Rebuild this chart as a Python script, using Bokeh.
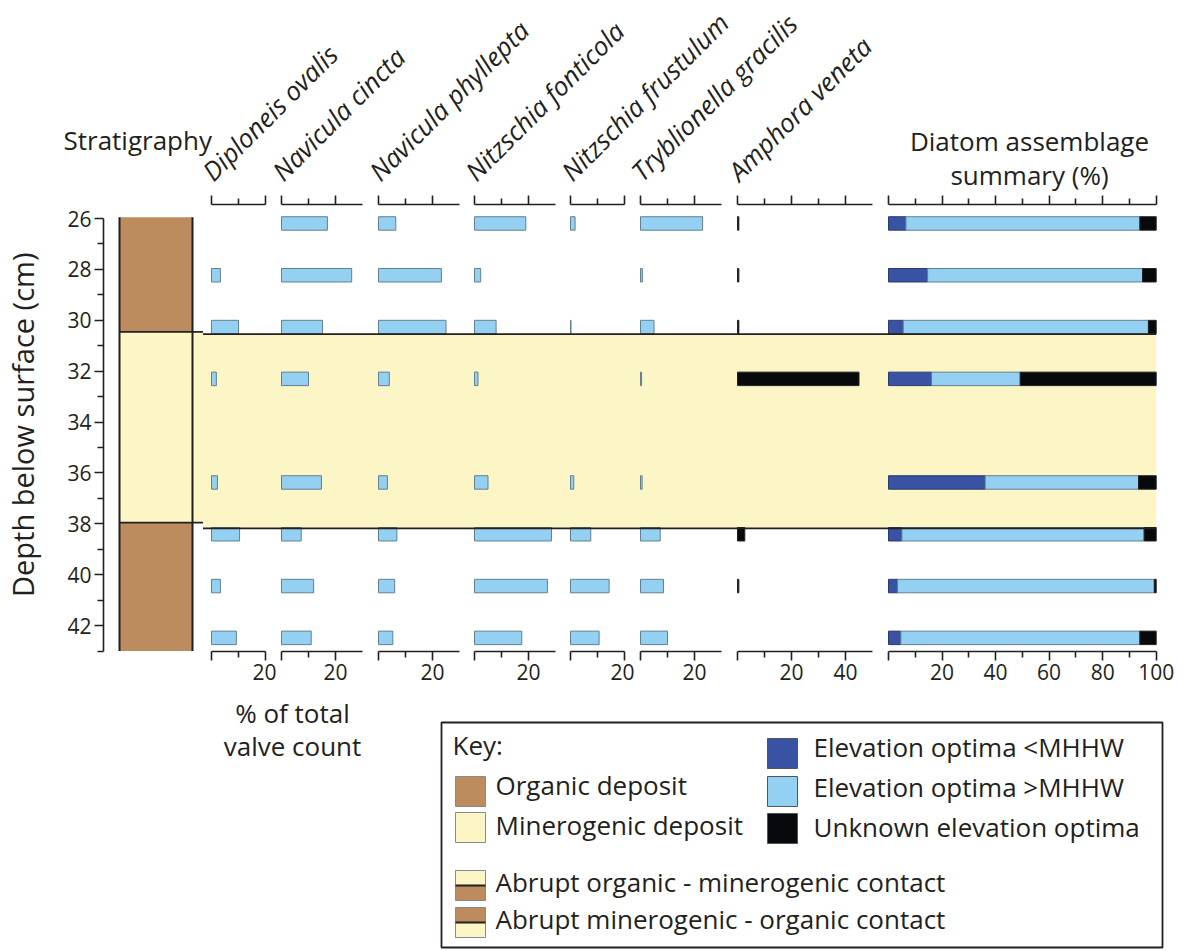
import math
from bokeh.plotting import figure
from bokeh.layouts import row, column
from bokeh.models import Range1d, LinearAxis, FixedTicker, ColumnDataSource, CustomJSTickFormatter
from bokeh.core.properties import value
from bokeh.embed import file_html
from bokeh.resources import INLINE

# ---------------- data ----------------
depths = [26, 28, 30, 32, 36, 38, 40, 42]

species_names = ["Diploneis ovalis", "Navicula cincta", "Navicula phyllepta",
                 "Nitzschia fonticola", "Nitzschia frustulum", "Tryblionella gracilis",
                 "Amphora veneta"]
diploneis_ovalis = [0, 3.3, 10.0, 1.8, 2.2, 10.4, 3.3, 9.2]
navicula_cincta = [17.0, 26.0, 15.2, 10.0, 14.8, 7.3, 11.9, 11.0]
navicula_phyllepta = [6.4, 23.3, 25.0, 4.0, 3.3, 6.8, 6.0, 5.3]
nitzschia_fonticola = [19.0, 2.3, 8.0, 1.3, 5.0, 28.5, 27.0, 17.5]
nitzschia_frustulum = [1.7, 0, 0.2, 0, 1.2, 7.5, 14.3, 10.6]
tryblionella_gracilis = [23.0, 0.7, 5.0, 0.4, 0.6, 7.3, 8.5, 10.0]
amphora_veneta = [0.5, 0.5, 0.5, 45.0, 0, 2.7, 0.5, 0]
species_values = [diploneis_ovalis, navicula_cincta, navicula_phyllepta,
                  nitzschia_fonticola, nitzschia_frustulum, tryblionella_gracilis,
                  amphora_veneta]
species_axis_max = [20, 30, 30, 30, 20, 30, 50]
species_group = ["above", "above", "above", "above", "above", "above", "unknown"]

# diatom assemblage summary (%)
below_mhhw = [6.5, 14.6, 5.5, 16.1, 36.1, 5.0, 3.4, 4.6]
above_mhhw = [87.4, 80.3, 91.6, 33.1, 57.3, 90.5, 95.9, 89.3]
unknown_opt = [6.1, 5.1, 2.9, 50.8, 6.6, 4.5, 0.7, 6.1]

# stratigraphy
strat_units = ["organic", "minerogenic", "organic"]
strat_top = [25.95, 30.45, 37.95]
strat_base = [30.45, 37.95, 43.0]
contacts = [30.45, 37.95]

depth_major_ticks = [26, 28, 30, 32, 34, 36, 38, 40, 42]
depth_minor_ticks = [27, 29, 31, 33, 35, 37, 39, 41, 43]

# ---------------- style / layout ----------------
FONT = "Open Sans"
INK = "#231f20"
C_ORG = "#bc8c5f"
C_MIN = "#fcf6c6"
C_DARK = "#3a52a3"
C_LIGHT = "#93d0f1"
C_BLACK = "#08090c"
EDGE = "#62808f"
group_fill = {"above": C_LIGHT, "unknown": C_BLACK, "below": C_DARK}
unit_fill = {"organic": C_ORG, "minerogenic": C_MIN}

X_LEFT, X_RIGHT = 0, 1190
HEAD_TOP = 0
ROW_TOP = 194
FRAME_TOP = 204
PANEL_BOTTOM = 651
CORE_BOTTOM = 659
ROW_BOTTOM = 694
PAGE_BOTTOM = 949
Y26 = 218.3
PX_CM = 25.9
LABEL_COL_RIGHT = 58
A_FRAME_LEFT = 103
A_RIGHT = 203
STRAT_L, STRAT_R = 119, 192
panel_zero_px = [211, 281, 378, 474, 570, 640, 737]
panel_edges = [203, 276, 372, 468, 564, 634, 731, 880]
PX_PCT = 2.7
SUM_ZERO, SUM_PX_PCT, SUM_L = 888, 2.677, 880
BAR_TOP_OFF, BAR_BOT_OFF = -0.08, 0.44
BLEED = 2.0
BASE_FIX = 11       # renderer draws the alphabetic baseline this far below the anchor
VLABEL_FIX = 40     # extra along-text shift seen for the 90-degree caption


def fix(xs, ys, angle=0.0):
    """Shift anchors so that the drawn baseline lands at the wanted spot."""
    dx, dy = BASE_FIX * math.sin(angle), BASE_FIX * math.cos(angle)
    return [x - dx for x in xs], [y - dy for y in ys]


def depth_at(px):
    return 26 + (px - Y26) / PX_CM


def base_fig(width, height, x_range, y_range, **kw):
    p = figure(width=width, height=height, x_range=x_range, y_range=y_range,
               output_backend="svg", toolbar_location=None,
               x_axis_location=None, y_axis_location=None, min_border=0, **kw)
    p.outline_line_color = None
    p.background_fill_color = "white"
    p.border_fill_color = "white"
    p.xgrid.visible = False
    p.ygrid.visible = False
    return p


def styled_axis(bounds, majors, minors, show_labels, hide_zero=True):
    code = "return tick == 0 ? '' : tick.toFixed(0);" if hide_zero else "return tick.toFixed(0);"
    if not show_labels:
        code = "return '';"
    ax = LinearAxis(bounds=bounds, ticker=FixedTicker(ticks=majors, minor_ticks=minors),
                    formatter=CustomJSTickFormatter(code=code))
    ax.axis_line_color = INK
    ax.axis_line_width = 1.6
    ax.major_tick_line_color = INK
    ax.major_tick_line_width = 1.6
    ax.minor_tick_line_color = INK
    ax.minor_tick_line_width = 1.6
    ax.major_tick_in = 0
    ax.major_tick_out = 9
    ax.minor_tick_in = 0
    ax.minor_tick_out = 6
    ax.major_label_standoff = 3 if show_labels else 0
    ax.major_label_text_font = FONT
    ax.major_label_text_font_size = "21px" if show_labels else "0px"
    ax.major_label_text_color = INK
    return ax


ROW_H = ROW_BOTTOM - ROW_TOP
panel_yr = lambda: Range1d(depth_at(PANEL_BOTTOM), depth_at(FRAME_TOP))
TXT = dict(text_font=value(FONT), text_font_size="26px", text_color=INK, text_baseline="alphabetic")
LVL = "annotation"

# ---------------- header ----------------
head = base_fig(X_RIGHT - X_LEFT, ROW_TOP - HEAD_TOP, Range1d(X_LEFT, X_RIGHT), Range1d(ROW_TOP, HEAD_TOP))
hx, hy = fix([63], [150])
head.text(x=hx, y=hy, text=["Stratigraphy"], text_align="left", **TXT)
ang = math.pi / 4
sx, sy = fix([z + 3 for z in panel_zero_px], [183] * len(species_names), ang)
head.text(x=sx, y=sy, text=species_names, text_font_style="italic", angle=ang, text_align="left", **TXT)
dx_, dy_ = fix([1029, 1029], [151, 185])
head.text(x=dx_, y=dy_, text=["Diatom assemblage", "summary (%)"], text_align="center", **TXT)

# ---------------- depth axis caption ----------------
cap = base_fig(LABEL_COL_RIGHT - X_LEFT, ROW_H, Range1d(X_LEFT, LABEL_COL_RIGHT), Range1d(ROW_BOTTOM, ROW_TOP))
cx, cy = fix([33], [593 + VLABEL_FIX], math.pi / 2)
cap.text(x=cx, y=cy, text=["Depth below surface (cm)"], angle=math.pi / 2, text_align="left",
         text_font=value(FONT), text_font_size="29px", text_color=INK, text_baseline="alphabetic")

# ---------------- stratigraphy + depth axis ----------------
figA = base_fig(A_RIGHT - LABEL_COL_RIGHT, ROW_H, Range1d(A_FRAME_LEFT, A_RIGHT),
                Range1d(depth_at(CORE_BOTTOM), depth_at(FRAME_TOP)),
                min_border_left=A_FRAME_LEFT - LABEL_COL_RIGHT, min_border_top=FRAME_TOP - ROW_TOP,
                min_border_bottom=ROW_BOTTOM - CORE_BOTTOM)
figA.quad(left=STRAT_R, right=A_RIGHT + 5, top=contacts[0], bottom=contacts[1], fill_color=C_MIN,
          line_color=None, level=LVL)
figA.quad(left=[STRAT_L] * 3, right=[STRAT_R] * 3, top=strat_top, bottom=strat_base,
          fill_color=[unit_fill[u] for u in strat_units], line_color=None, level=LVL)
figA.segment(x0=[STRAT_L, STRAT_R], x1=[STRAT_L, STRAT_R], y0=[strat_top[0]] * 2, y1=[strat_base[-1]] * 2,
             line_color=INK, line_width=2, level=LVL)
figA.segment(x0=[STRAT_L] * 2, x1=[A_RIGHT + 5] * 2, y0=contacts, y1=contacts, line_color=INK,
             line_width=1.8, level=LVL)
figA.add_layout(styled_axis((26, 43), depth_major_ticks, depth_minor_ticks, True, hide_zero=False), "left")

figs = [cap, figA]

# ---------------- species panels ----------------
for i, name in enumerate(species_names):
    L, R = panel_edges[i], panel_edges[i + 1]
    z = panel_zero_px[i]
    xr = Range1d((L - z) / PX_PCT, (R - z) / PX_PCT)
    p = base_fig(R - L, ROW_H, xr, panel_yr(), min_border_top=FRAME_TOP - ROW_TOP,
                 min_border_bottom=ROW_BOTTOM - PANEL_BOTTOM)
    p.quad(left=xr.start - BLEED, right=xr.end + BLEED, top=contacts[0], bottom=contacts[1],
           fill_color=C_MIN, line_color=None, level=LVL)
    vals = species_values[i]
    d_ = [d for d, v in zip(depths, vals) if v > 0]
    v_ = [v for v in vals if v > 0]
    src = ColumnDataSource(dict(left=[0] * len(v_), right=v_,
                                top=[d + BAR_TOP_OFF for d in d_], bottom=[d + BAR_BOT_OFF for d in d_]))
    fill = group_fill[species_group[i]]
    p.quad(left="left", right="right", top="top", bottom="bottom", source=src,
           fill_color=fill, line_color=EDGE if species_group[i] == "above" else "#222222", line_width=1,
           level=LVL)
    p.segment(x0=[xr.start - BLEED] * 2, x1=[xr.end + BLEED] * 2, y0=contacts, y1=contacts,
              line_color=INK, line_width=1.8, level=LVL)
    amax = species_axis_max[i]
    majors = list(range(0, amax, 20)) if amax > 20 else [0, 20]
    minors = list(range(10, amax, 20))
    p.add_layout(styled_axis((0, amax), majors, minors, False), "above")
    p.add_layout(styled_axis((0, amax), majors, minors, True), "below")
    figs.append(p)

# ---------------- summary panel ----------------
xr = Range1d((SUM_L - SUM_ZERO) / SUM_PX_PCT, (X_RIGHT - SUM_ZERO) / SUM_PX_PCT)
ps = base_fig(X_RIGHT - SUM_L, ROW_H, xr, panel_yr(), min_border_top=FRAME_TOP - ROW_TOP,
              min_border_bottom=ROW_BOTTOM - PANEL_BOTTOM)
ps.quad(left=xr.start - BLEED, right=100, top=contacts[0], bottom=contacts[1], fill_color=C_MIN,
        line_color=None, level=LVL)
c1 = [b for b in below_mhhw]
c2 = [b + a for b, a in zip(below_mhhw, above_mhhw)]
c3 = [b + a + u for b, a, u in zip(below_mhhw, above_mhhw, unknown_opt)]
tops = [d + BAR_TOP_OFF for d in depths]
bots = [d + BAR_BOT_OFF for d in depths]
ps.quad(left=[0] * len(depths), right=c1, top=tops, bottom=bots, fill_color=C_DARK, line_color="#2b3a6e",
        line_width=1, level=LVL)
ps.quad(left=c1, right=c2, top=tops, bottom=bots, fill_color=C_LIGHT, line_color=EDGE, line_width=1, level=LVL)
ps.quad(left=c2, right=c3, top=tops, bottom=bots, fill_color=C_BLACK, line_color="#222222", line_width=1,
        level=LVL)
ps.segment(x0=[xr.start - BLEED] * 2, x1=[100] * 2, y0=contacts, y1=contacts, line_color=INK, line_width=1.8,
           level=LVL)
ps.add_layout(styled_axis((0, 100), list(range(0, 101, 20)), list(range(10, 100, 20)), False), "above")
ps.add_layout(styled_axis((0, 100), list(range(0, 101, 20)), list(range(10, 100, 20)), True), "below")
figs.append(ps)

main_row = row(*figs, spacing=0)

# ---------------- bottom: axis caption + key ----------------
bot = base_fig(X_RIGHT - X_LEFT, PAGE_BOTTOM - ROW_BOTTOM, Range1d(X_LEFT, X_RIGHT), Range1d(PAGE_BOTTOM, ROW_BOTTOM))
bx, by = fix([292, 292], [723, 756])
bot.text(x=bx, y=by, text=["% of total", "valve count"], text_align="center", **TXT)
bot.quad(left=441, right=1162, top=722, bottom=947, fill_color=None, line_color=INK, line_width=1.8)
kx, ky = fix([452], [755])
bot.text(x=kx, y=ky, text=["Key:"], text_align="left", **TXT)
key_left_labels = ["Organic deposit", "Minerogenic deposit"]
key_left_fill = [C_ORG, C_MIN]
key_left_top = [776, 812]
key_left_base = [795, 835]
bot.quad(left=[455] * 2, right=[485] * 2, top=key_left_top, bottom=[t + 30 for t in key_left_top],
         fill_color=key_left_fill, line_color="#8a8a8a", line_width=1)
lx, ly = fix([495] * 2, key_left_base)
bot.text(x=lx, y=ly, text=key_left_labels, text_align="left", **TXT)
key_right_labels = ["Elevation optima <MHHW", "Elevation optima >MHHW", "Unknown elevation optima"]
key_right_fill = [C_DARK, C_LIGHT, C_BLACK]
key_right_top = [738, 776, 813]
key_right_base = [757, 797, 837]
bot.quad(left=[767] * 3, right=[797] * 3, top=key_right_top, bottom=[t + 30 for t in key_right_top],
         fill_color=key_right_fill, line_color="#555555", line_width=1)
rx, ry = fix([813] * 3, key_right_base)
bot.text(x=rx, y=ry, text=key_right_labels, text_align="left", **TXT)
contact_labels = ["Abrupt organic - minerogenic contact", "Abrupt minerogenic - organic contact"]
contact_top = [870, 907]
contact_base = [892, 929]
contact_upper = [C_MIN, C_ORG]
contact_lower = [C_ORG, C_MIN]
bot.quad(left=[455] * 2, right=[485] * 2, top=contact_top, bottom=[t + 15 for t in contact_top],
         fill_color=contact_upper, line_color=None)
bot.quad(left=[455] * 2, right=[485] * 2, top=[t + 15 for t in contact_top], bottom=[t + 30 for t in contact_top],
         fill_color=contact_lower, line_color=None)
bot.quad(left=[455] * 2, right=[485] * 2, top=contact_top, bottom=[t + 30 for t in contact_top],
         fill_color=None, line_color="#8a8a8a", line_width=1)
bot.segment(x0=[455] * 2, x1=[485] * 2, y0=[t + 15 for t in contact_top], y1=[t + 15 for t in contact_top],
            line_color=INK, line_width=2)
tx, ty = fix([495] * 2, contact_base)
bot.text(x=tx, y=ty, text=contact_labels, text_align="left", **TXT)

layout = column(head, main_row, bot, spacing=0)
open("out.html", "w").write(file_html(layout, INLINE))
